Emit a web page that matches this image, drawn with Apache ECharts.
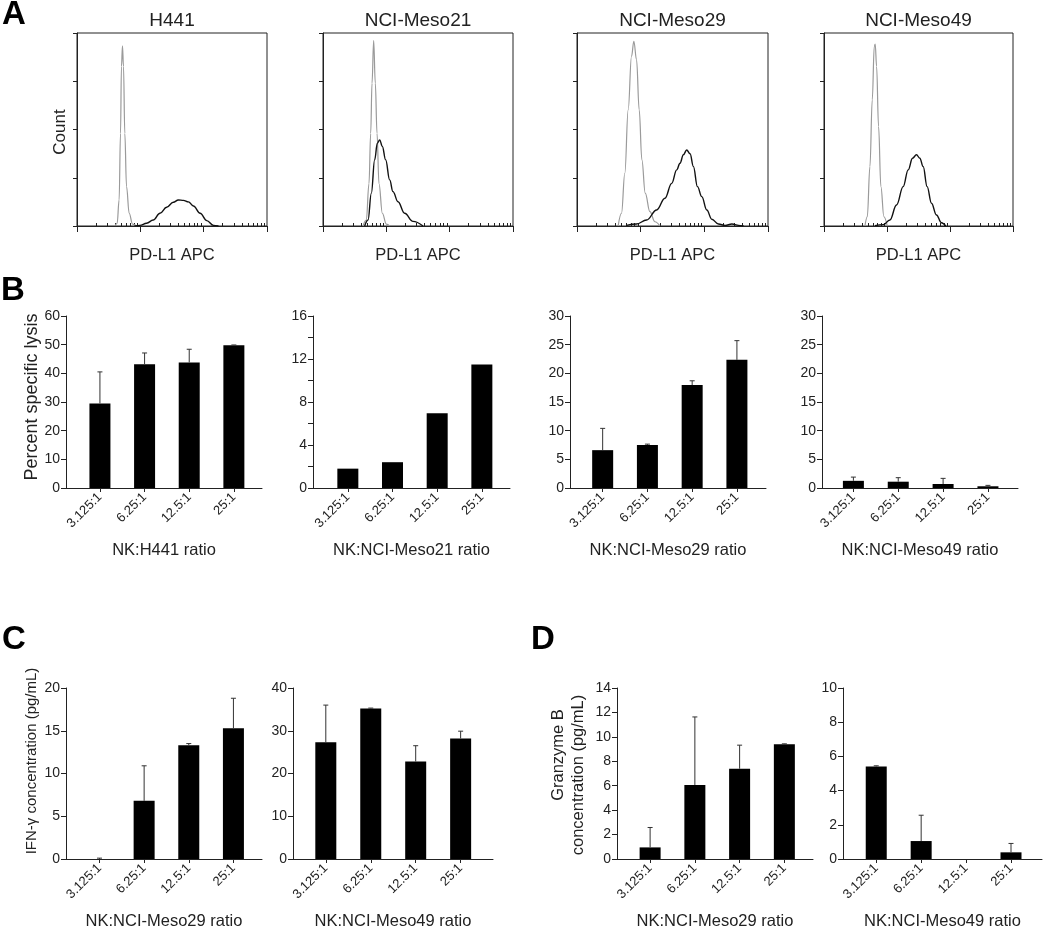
<!DOCTYPE html>
<html>
<head>
<meta charset="utf-8">
<script src="https://cdn.jsdelivr.net/npm/echarts@6/dist/echarts.min.js"></script>
<style>
  html, body { margin: 0; padding: 0; background: #fff; }
  #chart { width: 1050px; height: 931px; }
</style>
</head>
<body>
<div id="chart"></div>
<script>
// ---- data ----
var ratios = ["3.125:1", "6.25:1", "12.5:1", "25:1"];

// flow histograms: [log10 decade position, % of max count]
var h441Iso = [[0.597,0],[0.634,1.4],[0.665,13.5],[0.687,48],[0.702,82.7],[0.718,93.4],[0.734,82.7],[0.755,48],[0.782,20.4],[0.824,6.6],[0.877,1],[0.94,0]];
var h441Pdl1 = [[0.914,0],[0.993,0.3],[1.099,1.4],[1.204,3.1],[1.31,6.6],[1.415,9.7],[1.521,12.3],[1.6,13.5],[1.68,13.3],[1.759,12.5],[1.838,10.4],[1.944,6.6],[2.049,2.8],[2.155,0.3],[2.234,0]];
var meso21Iso = [[0.632,0],[0.684,3.1],[0.726,22],[0.753,48],[0.774,74],[0.8,96],[0.826,74],[0.853,48],[0.884,22],[0.937,6.6],[1.0,1],[1.053,0]];
var meso21Pdl1 = [[0.658,0],[0.711,3.1],[0.763,17],[0.816,34.3],[0.858,42.9],[0.895,44.6],[0.937,41.2],[0.989,34.3],[1.053,23.9],[1.105,17.8],[1.184,12.6],[1.289,6.6],[1.421,2.4],[1.579,0]];
var meso29Iso = [[0.646,0],[0.699,6.6],[0.751,27.3],[0.804,60.2],[0.856,87.9],[0.893,95.7],[0.935,86.2],[0.977,60.2],[1.019,34.3],[1.072,17],[1.145,7.4],[1.224,2.2],[1.303,0]];
var meso29Pdl1 = [[0.778,0.3],[0.935,1],[1.093,3.1],[1.251,8.3],[1.382,14.4],[1.487,22.1],[1.566,29.1],[1.618,32.5],[1.671,36.9],[1.723,39.4],[1.776,37.4],[1.828,30.8],[1.892,20.4],[1.96,15.2],[2.039,8.3],[2.117,3.5],[2.222,1],[2.327,0.3],[2.432,1],[2.564,0.2],[2.617,0]];
var meso49Iso = [[0.65,0],[0.687,4.8],[0.729,30.8],[0.766,65.4],[0.798,93.1],[0.813,94.3],[0.835,82.7],[0.866,51.6],[0.903,20.4],[0.951,4.8],[1.004,0]];
var meso49Pdl1 = [[0.808,0.2],[0.94,0.7],[1.046,3.1],[1.151,10.9],[1.257,20.4],[1.336,29.1],[1.405,35.1],[1.468,36.9],[1.521,35.1],[1.574,30.8],[1.637,20.4],[1.706,11.8],[1.785,5.7],[1.864,1.7],[1.933,0]];

// B: percent specific lysis (mean, SD)
var lysisH441 = [29.5, 43.2, 43.8, 49.8];
var lysisH441Sd = [11.0, 3.9, 4.6, 0.1];
var lysisMeso21 = [1.8, 2.4, 6.95, 11.5];
var lysisMeso21Sd = [0, 0, 0, 0];
var lysisMeso29 = [6.6, 7.5, 17.95, 22.35];
var lysisMeso29Sd = [3.8, 0.15, 0.75, 3.35];
var lysisMeso49 = [1.25, 1.1, 0.7, 0.3];
var lysisMeso49Sd = [0.65, 0.7, 0.98, 0.16];

// C: IFN-gamma (pg/mL)
var ifnMeso29 = [0, 6.8, 13.3, 15.3];
var ifnMeso29Sd = [0.1, 4.1, 0.2, 3.5];
var ifnMeso49 = [27.3, 35.2, 22.8, 28.2];
var ifnMeso49Sd = [8.7, 0.1, 3.7, 1.7];

// D: granzyme B (pg/mL)
var gzbMeso29 = [0.95, 6.06, 7.39, 9.4];
var gzbMeso29Sd = [1.63, 5.57, 1.93, 0.03];
var gzbMeso49 = [5.41, 1.05, 0, 0.39];
var gzbMeso49Sd = [0.04, 1.51, 0, 0.52];

// ---- chart ----
var FONT = "Liberation Sans, Arial, sans-serif";
var INK = "#222";

var grids = [], xAxes = [], yAxes = [], series = [], graphics = [];

// minor log ticks
var minorTicks = [];
for (var d = 0; d < 3; d++) {
  for (var k = 2; k <= 9; k++) minorTicks.push(d + Math.log10(k));
}

function label(text, x, y, size, rotated) {
  graphics.push({ type: "text", x: x, y: y, rotation: rotated ? Math.PI / 2 : 0,
    style: { text: text, font: size + "px " + FONT, fill: INK, textAlign: "center", textVerticalAlign: "middle" } });
}

function histPanel(rect, title, iso, pos) {
  var g = grids.length;
  grids.push({ left: rect[0], top: 33, width: rect[1], height: 193, show: true,
    borderColor: INK, borderWidth: 1, backgroundColor: "transparent" });
  var xi = xAxes.length;
  xAxes.push({
    type: "value", gridIndex: g, min: 0, max: 3, interval: 1,
    axisLine: { show: true, onZero: false, lineStyle: { color: INK, width: 1 } },
    axisTick: { show: true, length: 6, lineStyle: { color: INK } },
    axisLabel: { show: false }, splitLine: { show: false },
    name: "PD-L1 APC", nameLocation: "middle", nameGap: 21,
    nameTextStyle: { fontFamily: FONT, fontSize: 16.5, color: INK }
  });
  xAxes.push({
    type: "value", gridIndex: g, min: 0, max: 3,
    axisLine: { show: false },
    axisTick: { show: true, length: 3, customValues: minorTicks, lineStyle: { color: INK } },
    axisLabel: { show: false }, splitLine: { show: false }
  });
  var yi = yAxes.length;
  yAxes.push({
    type: "value", gridIndex: g, min: 0, max: 100, interval: 25,
    axisLine: { show: true, onZero: false, lineStyle: { color: INK, width: 1 } },
    axisTick: { show: true, length: 4, lineStyle: { color: INK } },
    axisLabel: { show: false }, splitLine: { show: false }
  });
  series.push({ type: "line", xAxisIndex: xi, yAxisIndex: yi, data: iso, smooth: 0.4,
    smoothMonotone: "x", symbol: "none", lineStyle: { color: "#9a9a9a", width: 1.2 } });
  series.push({ type: "line", xAxisIndex: xi, yAxisIndex: yi, data: pos, smooth: 0.4,
    smoothMonotone: "x", symbol: "none", lineStyle: { color: "#111", width: 1.4 } });
  label(title, rect[0] + rect[1] / 2, 21, 19, false);
}

function barPanel(rect, xr, yMax, yInt, labelEvery, means, sds, xName) {
  var g = grids.length;
  grids.push({ left: rect[0], top: rect[1], width: rect[2], height: rect[3] });
  var xi = xAxes.length;
  xAxes.push({
    type: "value", gridIndex: g, min: xr[0], max: xr[1],
    axisLine: { show: true, onZero: false, lineStyle: { color: INK, width: 1 } },
    axisTick: { show: true, length: 4, customValues: [0, 1, 2, 3], lineStyle: { color: INK } },
    axisLabel: { show: true, customValues: [0, 1, 2, 3], rotate: 45, margin: 7,
      fontFamily: FONT, fontSize: 13, color: INK,
      formatter: function (v) { return ratios[Math.round(v)]; } },
    splitLine: { show: false },
    name: xName, nameLocation: "middle", nameGap: 54,
    nameTextStyle: { fontFamily: FONT, fontSize: 16.5, color: INK }
  });
  var yi = yAxes.length;
  yAxes.push({
    type: "value", gridIndex: g, min: 0, max: yMax, interval: yInt,
    axisLine: { show: true, onZero: false, lineStyle: { color: INK, width: 1 } },
    axisTick: { show: true, length: 5, lineStyle: { color: INK } },
    axisLabel: { show: true, margin: 6, fontFamily: FONT, fontSize: 14, color: INK,
      formatter: function (v) { return (v % labelEvery === 0) ? String(v) : ""; } },
    splitLine: { show: false }
  });
  series.push({ type: "bar", xAxisIndex: xi, yAxisIndex: yi, barWidth: 21,
    data: means.map(function (v, i) { return [i, v]; }),
    itemStyle: { color: "#000" } });
  series.push({ type: "custom", xAxisIndex: xi, yAxisIndex: yi, z: 5,
    data: means.map(function (v, i) { return [i, v, v + sds[i], sds[i]]; }),
    encode: { x: 0, y: [1, 2] },
    renderItem: function (params, api) {
      if (api.value(3) <= 0) return null;
      var b = api.coord([api.value(0), api.value(1)]);
      var t = api.coord([api.value(0), api.value(2)]);
      var st = { stroke: "#333", lineWidth: 1 };
      return { type: "group", children: [
        { type: "line", shape: { x1: b[0], y1: b[1], x2: t[0], y2: t[1] }, style: st },
        { type: "line", shape: { x1: t[0] - 2.5, y1: t[1], x2: t[0] + 2.5, y2: t[1] }, style: st }
      ] };
    } });
}

// A
histPanel([77, 190], "H441", h441Iso, h441Pdl1);
histPanel([323, 190], "NCI-Meso21", meso21Iso, meso21Pdl1);
histPanel([577, 191], "NCI-Meso29", meso29Iso, meso29Pdl1);
histPanel([824, 189], "NCI-Meso49", meso49Iso, meso49Pdl1);
label("Count", 60, 132, 17, true);

// B
barPanel([66, 316, 196, 172], [-0.76, 3.63], 60, 10, 10, lysisH441, lysisH441Sd, "NK:H441 ratio");
barPanel([313, 316, 197, 172], [-0.78, 3.63], 16, 2, 4, lysisMeso21, lysisMeso21Sd, "NK:NCI-Meso21 ratio");
barPanel([570, 316, 196, 172], [-0.73, 3.65], 30, 5, 5, lysisMeso29, lysisMeso29Sd, "NK:NCI-Meso29 ratio");
barPanel([822, 316, 196, 172], [-0.70, 3.67], 30, 5, 5, lysisMeso49, lysisMeso49Sd, "NK:NCI-Meso49 ratio");
label("Percent specific lysis", 32, 397, 18, true);

// C
barPanel([66, 688, 196, 171.5], [-0.75, 3.64], 20, 5, 5, ifnMeso29, ifnMeso29Sd, "NK:NCI-Meso29 ratio");
barPanel([293, 688, 200, 171.5], [-0.73, 3.72], 40, 10, 10, ifnMeso49, ifnMeso49Sd, "NK:NCI-Meso49 ratio");
label("IFN-\u03b3 concentration (pg/mL)", 32, 761, 15, true);

// D
barPanel([617, 688, 196, 172], [-0.74, 3.64], 14, 2, 2, gzbMeso29, gzbMeso29Sd, "NK:NCI-Meso29 ratio");
barPanel([843, 688, 199, 172], [-0.74, 3.69], 10, 2, 2, gzbMeso49, gzbMeso49Sd, "NK:NCI-Meso49 ratio");
label("Granzyme B", 558, 755, 16.5, true);
label("concentration (pg/mL)", 578, 775, 16.5, true);

// panel letters
[["A", 14, 15], ["B", 13, 291], ["C", 14, 640], ["D", 543, 640]].forEach(function (p) {
  graphics.push({ type: "text", x: p[1], y: p[2],
    style: { text: p[0], font: "bold 33px " + FONT, fill: "#000", textAlign: "center", textVerticalAlign: "middle" } });
});

var chart = echarts.init(document.getElementById("chart"), null, { renderer: "canvas" });
chart.setOption({
  backgroundColor: "#fff",
  animation: false,
  grid: grids,
  xAxis: xAxes,
  yAxis: yAxes,
  series: series,
  graphic: graphics
});
</script>
</body>
</html>
